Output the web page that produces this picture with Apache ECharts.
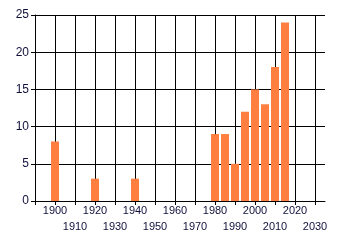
<!DOCTYPE html>
<html><head><meta charset="utf-8">
<script src="https://cdn.jsdelivr.net/npm/echarts@6/dist/echarts.min.js"></script>
<style>html,body{margin:0;padding:0;background:#fff}#c{width:340px;height:245px}</style>
</head><body><div id="c"></div>
<script>
const years = [1900, 1920, 1940, 1980, 1985, 1990, 1995, 2000, 2005, 2010, 2015];
const counts = [8, 3, 3, 9, 9, 5, 12, 15, 13, 18, 24];
const yTicks = [0, 5, 10, 15, 20, 25];
const xMin = 1890, xMax = 2035, xLastTick = 2030, xStep = 10;

const textColor = '#10103c';
const labelBase = {color: textColor, fontFamily: 'Liberation Sans', fontSize: 11, lineHeight: 14,
  showMinLabel: true, showMaxLabel: true, interval: 0};
const chart = echarts.init(document.getElementById('c'), null, {renderer: 'canvas'});
chart.setOption({
  animation: false,
  grid: [
    {left: 35, top: 15, right: 15, bottom: 44},
    {left: 35, top: 15, right: 25, bottom: 44}
  ],
  xAxis: [{
    gridIndex: 0, type: 'value', min: xMin, max: xMax,
    axisLine: {show: true, onZero: false, lineStyle: {color: '#000', width: 1}},
    axisTick: {show: false}, splitLine: {show: false}, axisLabel: {show: false}
  }, {
    gridIndex: 1, type: 'value', min: xMin, max: xLastTick, interval: xStep, position: 'bottom', offset: 0,
    axisLine: {show: false, onZero: false},
    axisTick: {show: true, length: 4, inside: false, lineStyle: {color: '#000'}},
    splitLine: {show: true, lineStyle: {color: '#000', width: 1}},
    axisLabel: Object.assign({}, labelBase, {margin: 3,
      formatter: v => (v !== xMin && v % 20 === 0) ? String(v) : ''})
  }, {
    gridIndex: 1, type: 'value', min: xMin, max: xLastTick, interval: xStep, position: 'bottom', offset: 0,
    axisLine: {show: false, onZero: false},
    axisTick: {show: false}, splitLine: {show: false},
    axisLabel: Object.assign({}, labelBase, {margin: 19,
      formatter: v => (v !== xMin && v % 20 === 10) ? String(v) : ''})
  }],
  yAxis: [{
    gridIndex: 0, type: 'value', min: yTicks[0], max: yTicks[yTicks.length - 1], interval: 5,
    axisLine: {show: true, lineStyle: {color: '#000', width: 1}},
    axisTick: {show: true, length: 4, lineStyle: {color: '#000'}},
    splitLine: {show: true, lineStyle: {color: '#000', width: 1}},
    axisLabel: {color: textColor, fontFamily: 'Liberation Sans', fontSize: 12, margin: 6}
  }, {
    gridIndex: 1, type: 'value', min: 0, max: 25, show: false
  }],
  series: [{
    type: 'bar', barWidth: 8, xAxisIndex: 0, yAxisIndex: 0,
    itemStyle: {color: '#FF7F40'},
    data: years.map((y, i) => [y, counts[i]])
  }]
});
</script></body></html>
